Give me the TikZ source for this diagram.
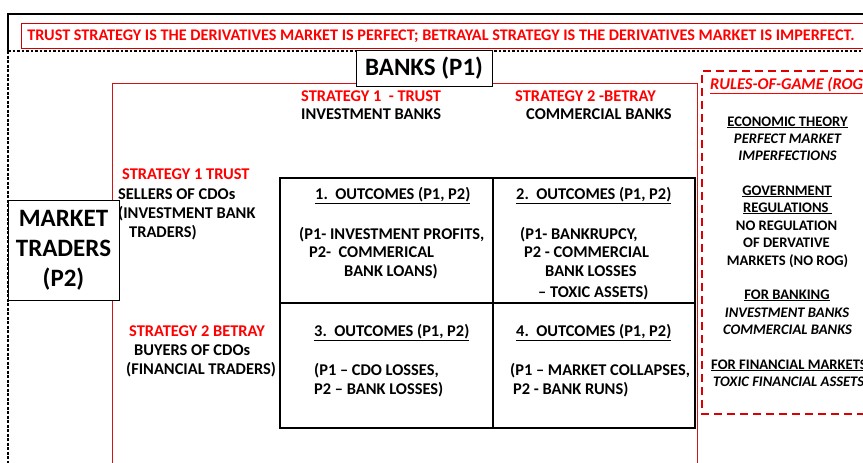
\documentclass[tikz,border=0pt]{standalone}
\usepackage{fontspec}
\setmainfont{Carlito}
\begin{document}
\begin{tikzpicture}[x=1pt,y=-1pt,
  lbl/.style={inner sep=0pt,anchor=base west,font=\fontsize{16.4}{18}\selectfont\bfseries},
  rlbl/.style={lbl,text={rgb,255:red,255;green,0;blue,0}},
  rog/.style={inner sep=0pt,anchor=base,font=\fontsize{14.6}{17}\selectfont\bfseries},
  rogi/.style={rog,font=\fontsize{14.6}{17}\selectfont\bfseries\itshape},
  bigbox/.style={draw=black,line width=0.8pt,fill=white,align=center,inner sep=0pt},
  grid/.style={draw=black,line width=1.8pt},
  redframe/.style={draw={rgb,255:red,210;green,0;blue,0},line width=0.8pt},
]
\useasboundingbox (0,0) rectangle (863,463);
\clip (0,0) rectangle (863,463);
\fill[white] (0,0) rectangle (863,463);
% outer frame
\draw[line width=1.6pt] (8,51) -- (8,14) -- (870,14);
\draw[line width=1.8pt,dash pattern=on 2.5pt off 2pt] (8,51) -- (870,51);
\draw[line width=1.6pt,dash pattern=on 3pt off 1.5pt] (8,51) -- (8,470);
% banner
\node[redframe,minimum width=849pt,minimum height=25pt,anchor=north west,inner sep=0pt] (banner) at (21,23) {};
\node[inner sep=0pt,anchor=base,text={rgb,255:red,255;green,0;blue,0},font=\fontsize{16.2}{18}\selectfont\bfseries] (bannertxt) at (441,41) {TRUST STRATEGY IS THE DERIVATIVES MARKET IS PERFECT; BETRAYAL STRATEGY IS THE DERIVATIVES MARKET IS IMPERFECT.};
% red game frame
\draw[draw={rgb,255:red,210;green,20;blue,20},line width=0.8pt] (112,470) -- (112,83) -- (697,83) -- (697,470);
% rules of game dashed box
\draw[draw={rgb,255:red,220;green,0;blue,0},line width=1.6pt,dash pattern=on 8pt off 5pt] (880,71) -- (702,71) -- (702,414) -- (880,414);
% banks box
\node[bigbox,minimum width=136pt,minimum height=36pt,font=\fontsize{25}{30}\selectfont\bfseries] (banks) at (424,68) {BANKS (P1)};
% market traders box
\node[bigbox,minimum width=111pt,minimum height=100pt,font=\fontsize{25}{30}\selectfont\bfseries] (traders) at (63.5,250) {MARKET\\TRADERS\\(P2)};
% matrix
\coordinate (m1) at (280,178);
\coordinate (m2) at (695,428);
\draw[grid] (m1) rectangle (m2);
\draw[grid] (493,178) -- (493,428);
\draw[grid] (280,303) -- (695,303);
% column headings
\node[rlbl] (s1t) at (301,101) {STRATEGY 1\ \ - TRUST};
\node[lbl] (s1b) at (301,119) {INVESTMENT BANKS};
\node[rlbl] (s2t) at (515,101) {STRATEGY 2 -BETRAY};
\node[lbl] (s2b) at (526,119) {COMMERCIAL BANKS};
% row headings
\node[rlbl] (r1t) at (122,179) {STRATEGY 1 TRUST};
\node[lbl] (r1a) at (118,199) {SELLERS OF CDOs};
\node[lbl] (r1b) at (118,218) {(INVESTMENT BANK};
\node[lbl] (r1c) at (129,237) {TRADERS)};
\node[rlbl] (r2t) at (129,336) {STRATEGY 2 BETRAY};
\node[lbl] (r2a) at (134,355) {BUYERS OF CDOs};
\node[lbl] (r2b) at (126,374) {(FINANCIAL TRADERS)};
% cell 1
\node[lbl] (c1h) at (315,199) {\underline{1.\ \ OUTCOMES (P1, P2)}};
\node[lbl] (c1a) at (299,239) {(P1- INVESTMENT PROFITS,};
\node[lbl] (c1b) at (309,257) {P2-\ \ COMMERICAL};
\node[lbl] (c1c) at (344,276) {BANK LOANS)};
% cell 2
\node[lbl] (c2h) at (516,199) {\underline{2.\ \ OUTCOMES (P1, P2)}};
\node[lbl] (c2a) at (520,239) {(P1- BANKRUPCY,};
\node[lbl] (c2b) at (524,257) {P2 - COMMERCIAL};
\node[lbl] (c2c) at (545,276) {BANK LOSSES};
\node[lbl] (c2d) at (538,297) {– TOXIC ASSETS)};
% cell 3
\node[lbl] (c3h) at (314,336) {\underline{3.\ \ OUTCOMES (P1, P2)}};
\node[lbl] (c3a) at (314,375) {(P1 – CDO LOSSES,};
\node[lbl] (c3b) at (314,394) {P2 – BANK LOSSES)};
% cell 4
\node[lbl] (c4h) at (516,336) {\underline{4.\ \ OUTCOMES (P1, P2)}};
\node[lbl] (c4a) at (510,375) {(P1 – MARKET COLLAPSES,};
\node[lbl] (c4b) at (513,394) {P2 - BANK RUNS)};
% rules of game
\node[inner sep=0pt,anchor=base west,text={rgb,255:red,255;green,0;blue,0},font=\fontsize{16.4}{18}\selectfont\bfseries\itshape] (rogt) at (710,89) {\underline{RULES-OF-GAME (ROG)}};
\node[rog] (g1) at (787.5,126) {\underline{ECONOMIC THEORY}};
\node[rogi] (g2) at (787.5,143) {PERFECT MARKET};
\node[rogi] (g3) at (787.5,160) {IMPERFECTIONS};
\node[rog] (g4) at (787,195) {\underline{GOVERNMENT}};
\node[rog] (g5) at (787.5,212) {\underline{REGULATIONS\ }};
\node[rog] (g6) at (786.5,230) {NO REGULATION};
\node[rog] (g7) at (786.5,247) {OF DERVATIVE};
\node[rog] (g8) at (787.5,265) {MARKETS (NO ROG)};
\node[rog] (g9) at (787,299) {\underline{FOR BANKING}};
\node[rogi] (g10) at (787,317) {INVESTMENT BANKS};
\node[rogi] (g11) at (787.5,334) {COMMERCIAL BANKS};
\node[rog,anchor=base west] (g12) at (711,369) {\underline{FOR FINANCIAL MARKETS}};
\node[rogi,anchor=base west] (g13) at (713,386) {TOXIC FINANCIAL ASSETS};
\end{tikzpicture}
\end{document}
